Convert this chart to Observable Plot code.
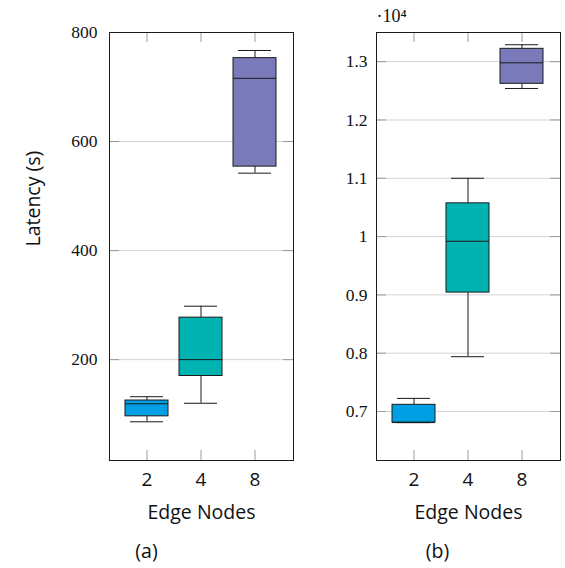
<!DOCTYPE html>
<html>
<head>
<meta charset="utf-8">
<script src="https://cdn.jsdelivr.net/npm/d3@7"></script>
<script src="https://cdn.jsdelivr.net/npm/@observablehq/plot@0.6"></script>
<style>
  html, body { margin: 0; padding: 0; background: #fff; }
  #wrap { position: relative; width: 565px; height: 568px; overflow: hidden; }
  #wrap svg { position: absolute; top: 0; overflow: visible; }
  #wrap g[aria-label="y-axis tick label"], #wrap g[aria-label="y-axis tick label"] text { font-family: 'Liberation Serif', 'Times New Roman', serif !important; font-size: 17.5px !important; font-variant: normal !important; font-variant-numeric: normal !important; }
  #wrap g[aria-label="x-axis tick label"], #wrap g[aria-label="x-axis tick label"] text { font-family: 'Open Sans', sans-serif !important; font-size: 19px !important; font-variant: normal !important; }
</style>
</head>
<body>
<div id="wrap"></div>
<script>
// ---- data ----
const nodes = ["2", "4", "8"];
const boxColors = ["#009FE3", "#00B3B3", "#7A7ABB"];

// panel (a): latency in seconds
const aMin = [86, 120, 542];
const aQ1  = [96, 170, 554];
const aMed = [119, 200, 716];
const aQ3  = [125, 277, 753];
const aMax = [132, 298, 767];
const aTicks = [200, 400, 600, 800];

// panel (b): latency in seconds (axis shown in units of 10^4)
const bMin = [6810, 7940, 12540];
const bQ1  = [6810, 9040, 12620];
const bMed = [6810, 9920, 12980];
const bQ3  = [7115, 10570, 13220];
const bMax = [7225, 11000, 13290];
const bTicks = [7000, 8000, 9000, 10000, 11000, 12000, 13000];

const xLabel = "Edge Nodes";
const yLabel = "Latency (s)";
const captions = ["(a)", "(b)"];
const multiplier = "·10⁴";

const SERIF = "'Liberation Serif', 'Times New Roman', serif";
const SANS = "'Open Sans', 'DejaVu Sans', sans-serif";

function rows(mn, q1, md, q3, mx) {
  return nodes.map((n, i) => ({node: n, min: mn[i], q1: q1[i], med: md[i], q3: q3[i], max: mx[i], color: boxColors[i]}));
}

function panel({data, domain, ticks, tickFormat, width, marginLeft, marginRight, tickPadding, caption, captionDx, showYLabel, showMult}) {
  const height = 568, marginTop = 32, marginBottom = 108;
  const pw = width - marginLeft - marginRight;
  const ph = height - marginTop - marginBottom;
  const marks = [
    Plot.ruleY(ticks, {y: d => d, stroke: "#d4d4d4", strokeWidth: 1}),
    Plot.ruleY(ticks, {y: d => d, stroke: "#9a9a9a", insetRight: pw - 10}),
    Plot.ruleY(ticks, {y: d => d, stroke: "#9a9a9a", insetLeft: pw - 10}),
    Plot.ruleX(nodes, {x: d => d, stroke: "#9a9a9a", insetBottom: ph - 10}),
    Plot.ruleX(nodes, {x: d => d, stroke: "#9a9a9a", insetTop: ph - 10}),
    Plot.ruleX(data, {x: "node", y1: "min", y2: "q1", stroke: "#1a1a1a"}),
    Plot.ruleX(data, {x: "node", y1: "q3", y2: "max", stroke: "#1a1a1a"}),
    Plot.tickY(data, {x: "node", y: "min", stroke: "#1a1a1a", insetLeft: 5, insetRight: 5}),
    Plot.tickY(data, {x: "node", y: "max", stroke: "#1a1a1a", insetLeft: 5, insetRight: 5}),
    Plot.barY(data, {x: "node", y1: "q1", y2: "q3", fill: "color", stroke: "#1a1a1a", strokeWidth: 1}),
    Plot.tickY(data, {x: "node", y: "med", stroke: "#1a1a1a"}),
    Plot.frame({stroke: "#1a1a1a"}),
    Plot.axisY({ticks, tickFormat, tickSize: 0, tickPadding, fontFamily: SERIF, fontSize: 17.5, fontVariant: "normal", fill: "#111", label: null}),
    Plot.axisX({tickSize: 0, tickPadding: 12, fontFamily: SANS, fontSize: 19, fontVariant: "normal", fill: "#111", label: null}),
    Plot.text([xLabel], {frameAnchor: "bottom", lineAnchor: "middle", dy: 52, fontFamily: SANS, fontSize: 19.5, fill: "#111"}),
    Plot.text([caption], {frameAnchor: "bottom", lineAnchor: "middle", dy: 91, dx: captionDx, fontFamily: SANS, fontSize: 19.5, fill: "#111"})
  ];
  if (showYLabel) {
    marks.push(Plot.text([yLabel], {frameAnchor: "left", lineAnchor: "middle", dx: -76, rotate: -90, fontFamily: SANS, fontSize: 19.5, fill: "#111"}));
  }
  if (showMult) {
    marks.push(Plot.text([multiplier], {frameAnchor: "top-left", textAnchor: "start", lineAnchor: "middle", dy: -16, dx: 0, fontFamily: SERIF, fontSize: 18, fill: "#111"}));
  }
  return Plot.plot({
    width, height, marginTop, marginBottom, marginLeft, marginRight,
    style: {background: "transparent", overflow: "visible"},
    x: {type: "band", domain: nodes, paddingInner: 0.2, paddingOuter: 0.273},
    y: {domain, ticks},
    color: {type: "identity"},
    marks
  });
}

const svgA = panel({
  data: rows(aMin, aQ1, aMed, aQ3, aMax),
  domain: [15, 800], ticks: aTicks, tickFormat: d => String(d),
  width: 300, marginLeft: 109, marginRight: 7, tickPadding: 12,
  caption: captions[0], captionDx: -55, showYLabel: true, showMult: false
});
const svgB = panel({
  data: rows(bMin, bQ1, bMed, bQ3, bMax),
  domain: [6160, 13500], ticks: bTicks, tickFormat: d => String(+(d / 1e4).toFixed(1)),
  width: 275, marginLeft: 86, marginRight: 5, tickPadding: 9,
  caption: captions[1], captionDx: -31, showYLabel: false, showMult: true
});
svgA.style.left = "0px";
svgB.style.left = "290px";
const wrap = document.getElementById("wrap");
wrap.appendChild(svgA);
wrap.appendChild(svgB);
// force the serif face on the y tick labels and the multiplier
d3.select(wrap).selectAll('g[aria-label="y-axis tick label"] text')
  .style("font-family", SERIF).style("font-size", "17.5px").style("font-variant", "normal");
d3.select(wrap).selectAll("text").filter(function () { return this.textContent === multiplier; })
  .style("font-family", SERIF).style("font-size", "18px");
</script>
</body>
</html>
